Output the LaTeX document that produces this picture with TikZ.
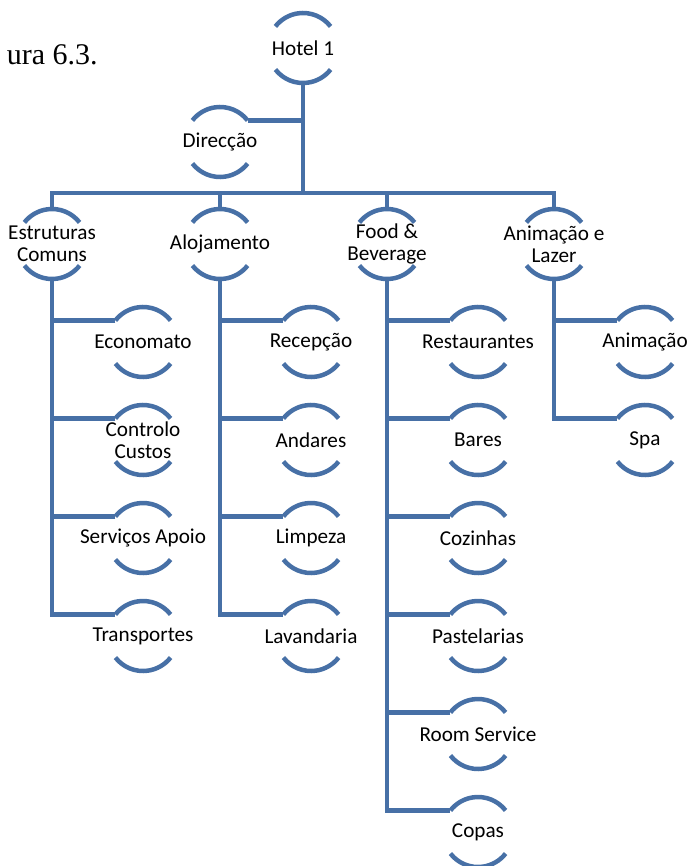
\documentclass[tikz,border=0pt]{standalone}
\usepackage{fontspec}
\setmainfont{Carlito}
\newfontfamily\captionserif{Liberation Serif}
\usepackage{tikz}
\usetikzlibrary{positioning, calc}
\definecolor{linec}{RGB}{71,112,166}

\begin{document}
\begin{tikzpicture}[x=0.5pt, y=-0.5pt,
  ring/.style={circle, minimum size=35pt, inner sep=0pt, outer sep=0pt},
  lbl/.style={font=\fontsize{10.6}{11.2}\selectfont, align=center, inner sep=0pt},
  conn/.style={line width=2.25pt, linec}]
  \useasboundingbox (0,0) rectangle (686,866);

  \node[font=\captionserif\fontsize{15}{18}\selectfont, anchor=base east, inner sep=0pt]
    (caption) at (98,65) {ura 6.3.};

  % top of the chart
  \node[ring, label={[lbl]center:Hotel 1}] (hotel) at (303,48) {};
  \node[ring, label={[lbl]center:Direcção}] (direc) at (220,142) {};
  \coordinate (bar) at (0,193);

  % second level
  \node[ring, label={[lbl]center:{Estruturas\\Comuns}}] (estr) at (52,244) {};
  \node[ring, label={[lbl]center:Alojamento}] (aloj) at (220,244) {};
  \node[ring, label={[lbl]center:{Food \&\\Beverage}}] (food) at (387,244) {};
  \node[ring, label={[lbl]center:{Animação e\\Lazer}}] (anim) at (554,244) {};

  % third level
  \foreach \n/\t [count=\i] in {econ/Economato, contr/{Controlo\\Custos},
      serv/Serviços Apoio, trans/Transportes}
    \node[ring, label={[lbl]center:\t}] (\n) at (143,244+98*\i) {};
  \foreach \n/\t [count=\i] in {recep/Recepção, andar/Andares, limp/Limpeza,
      lavan/Lavandaria}
    \node[ring, label={[lbl]center:\t}] (\n) at (311,244+98*\i) {};
  \foreach \n/\t [count=\i] in {rest/Restaurantes, bares/Bares, cozin/Cozinhas,
      paste/Pastelarias, room/Room Service, copas/Copas}
    \node[ring, label={[lbl]center:\t}] (\n) at (478,244+98*\i) {};
  \foreach \n/\t [count=\i] in {animc/Animação, spa/Spa}
    \node[ring, label={[lbl]center:\t}] (\n) at (645,244+98*\i) {};

  % open circles
  \foreach \n in {hotel, direc, estr, aloj, food, anim, econ, contr, serv, trans,
      recep, andar, limp, lavan, rest, bares, cozin, paste, room, copas, animc, spa}
    \draw[conn] (\n.38) arc[start angle=38, end angle=142, radius=17.5pt]
                (\n.218) arc[start angle=218, end angle=322, radius=17.5pt];

  % connectors
  \draw[conn] (hotel.south) -- (hotel.south |- bar);
  \draw[conn] (direc.38) -- (direc.38 -| hotel);
  \draw[conn] (estr.north) |- (bar -| anim) -- (anim.north);
  \draw[conn] (aloj.north) -- (aloj.north |- bar);
  \draw[conn] (food.north) -- (food.north |- bar);

  \draw[conn] (estr.south) |- (trans.142);
  \foreach \n in {econ, contr, serv}
    \draw[conn] (\n.142) -- (\n.142 -| estr);
  \draw[conn] (aloj.south) |- (lavan.142);
  \foreach \n in {recep, andar, limp}
    \draw[conn] (\n.142) -- (\n.142 -| aloj);
  \draw[conn] (food.south) |- (copas.142);
  \foreach \n in {rest, bares, cozin, paste, room}
    \draw[conn] (\n.142) -- (\n.142 -| food);
  \draw[conn] (anim.south) |- (spa.142);
  \draw[conn] (animc.142) -- (animc.142 -| anim);
\end{tikzpicture}
\end{document}
